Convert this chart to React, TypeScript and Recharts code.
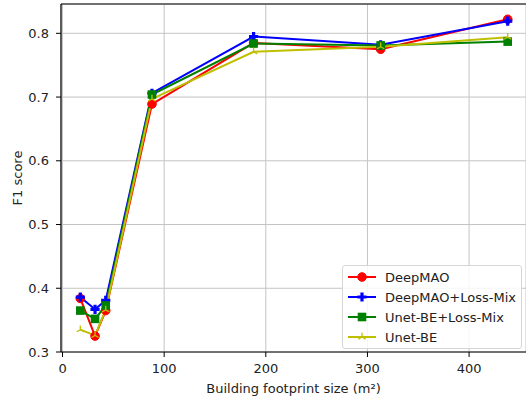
import React from "react";
import {
  CartesianGrid,
  Label,
  Line,
  LineChart,
  ReferenceLine,
  XAxis,
  YAxis
} from "recharts";

const sizes = [17.5, 32, 42.5, 88, 188, 313, 438];
const deepMao = [0.384, 0.325, 0.365, 0.689, 0.785, 0.775, 0.822];
const deepMaoLossMix = [0.386, 0.367, 0.381, 0.706, 0.795, 0.782, 0.819];
const unetLossMix = [0.365, 0.352, 0.373, 0.704, 0.784, 0.781, 0.787];
const unetBE = [0.335, 0.326, 0.366, 0.697, 0.771, 0.779, 0.794];

const xTicks = [0, 100, 200, 300, 400];
const yTicks = [0.3, 0.4, 0.5, 0.6, 0.7, 0.8];

const data = sizes.map((size, i) => ({
  size,
  deepMao: deepMao[i],
  deepMaoLossMix: deepMaoLossMix[i],
  unetLossMix: unetLossMix[i],
  unetBE: unetBE[i]
}));

type MarkerKind = "circle" | "plus" | "square" | "tri";

const SERIES: { key: string; name: string; color: string; marker: MarkerKind }[] = [
  { key: "deepMao", name: "DeepMAO", color: "#ff0000", marker: "circle" },
  { key: "deepMaoLossMix", name: "DeepMAO+Loss-Mix", color: "#0000ff", marker: "plus" },
  { key: "unetLossMix", name: "Unet-BE+Loss-Mix", color: "#008000", marker: "square" },
  { key: "unetBE", name: "Unet-BE", color: "#bfbf00", marker: "tri" }
];

const INK = "#222";
const GRID = "#c4c4c4";
const FONT = "'DejaVu Sans', sans-serif";
const FS = 13;

function Marker({ kind, cx, cy, color }: { kind: MarkerKind; cx: number; cy: number; color: string }) {
  if (kind === "circle") return <circle cx={cx} cy={cy} r={4.3} fill={color} stroke={color} />;
  if (kind === "square")
    return <rect x={cx - 4.3} y={cy - 4.3} width={8.6} height={8.6} fill={color} />;
  if (kind === "plus") {
    const a = 4.6;
    const t = 1.6;
    const d = `M${cx - t},${cy - a}H${cx + t}V${cy - t}H${cx + a}V${cy + t}H${cx + t}V${cy + a}H${cx - t}V${cy + t}H${cx - a}V${cy - t}H${cx - t}Z`;
    return <path d={d} fill={color} />;
  }
  const r = 4.2;
  return (
    <path
      d={`M${cx},${cy}V${cy - r}M${cx},${cy}L${cx - r * 0.87},${cy + r * 0.5}M${cx},${cy}L${cx + r * 0.87},${cy + r * 0.5}`}
      stroke={color}
      strokeWidth={1.3}
      fill="none"
    />
  );
}

function LegendBox() {
  return (
    <div
      style={{
        position: "absolute",
        left: 342,
        top: 265,
        width: 180,
        boxSizing: "border-box",
        border: "1px solid #d6d6d6",
        borderRadius: 3,
        background: "rgba(255,255,255,0.85)",
        padding: "1px 0",
        fontFamily: FONT,
        fontSize: FS,
        color: INK,
        whiteSpace: "nowrap"
      }}
    >
      {SERIES.map((s) => (
        <div key={s.key} style={{ display: "flex", alignItems: "center", height: 20 }}>
          <svg width={38} height={20} style={{ marginLeft: 3 }}>
            <line x1={2} y1={10} x2={30} y2={10} stroke={s.color} strokeWidth={2} />
            <Marker kind={s.marker} cx={16} cy={10} color={s.color} />
          </svg>
          <span style={{ marginLeft: 1 }}>{s.name}</span>
        </div>
      ))}
    </div>
  );
}

export default function App() {
  return (
    <div style={{ position: "absolute", left: 0, top: 0, width: 526, height: 398, fontFamily: FONT }}>
      <LineChart width={526} height={398} data={data} margin={{ top: 4, right: 0, left: 0, bottom: 0 }}>
        <CartesianGrid stroke={GRID} strokeWidth={1} />
        <XAxis
          dataKey="size"
          type="number"
          domain={[-1.5, 456]}
          ticks={xTicks}
          allowDataOverflow
          height={46}
          tick={{ fontSize: FS, fill: INK }}
          tickSize={5}
          tickMargin={7}
          stroke="#000"
          axisLine={{ stroke: "#000", strokeWidth: 1.2 }}
        >
          <Label value="Building footprint size (m²)" position="insideBottom" offset={5} fill={INK} fontSize={FS} />
        </XAxis>
        <YAxis
          type="number"
          domain={[0.3, 0.846]}
          ticks={yTicks}
          allowDataOverflow
          width={61}
          tick={{ fontSize: FS, fill: INK }}
          tickFormatter={(v) => Number(v).toFixed(1)}
          tickSize={5}
          tickMargin={7}
          stroke="#000"
          axisLine={{ stroke: "#000", strokeWidth: 1.2 }}
        >
          <Label
            content={({ viewBox }: any) => {
              const x = viewBox.x + 17;
              const y = viewBox.y + viewBox.height / 2;
              return (
                <text x={x} y={y} transform={`rotate(-90 ${x} ${y})`} textAnchor="middle" dominantBaseline="central" fill={INK} fontSize={FS}>
                  F1 score
                </text>
              );
            }}
          />
        </YAxis>
        <ReferenceLine y={0.846} stroke="#000" strokeWidth={1.2} />
        {SERIES.map((s) => (
          <Line
            key={s.key}
            dataKey={s.key}
            name={s.name}
            stroke={s.color}
            strokeWidth={2}
            isAnimationActive={false}
            activeDot={false}
            dot={(p: any) => <Marker key={`${s.key}-${p.index}`} kind={s.marker} cx={p.cx} cy={p.cy} color={s.color} />}
          />
        ))}
      </LineChart>
      <LegendBox />
    </div>
  );
}
